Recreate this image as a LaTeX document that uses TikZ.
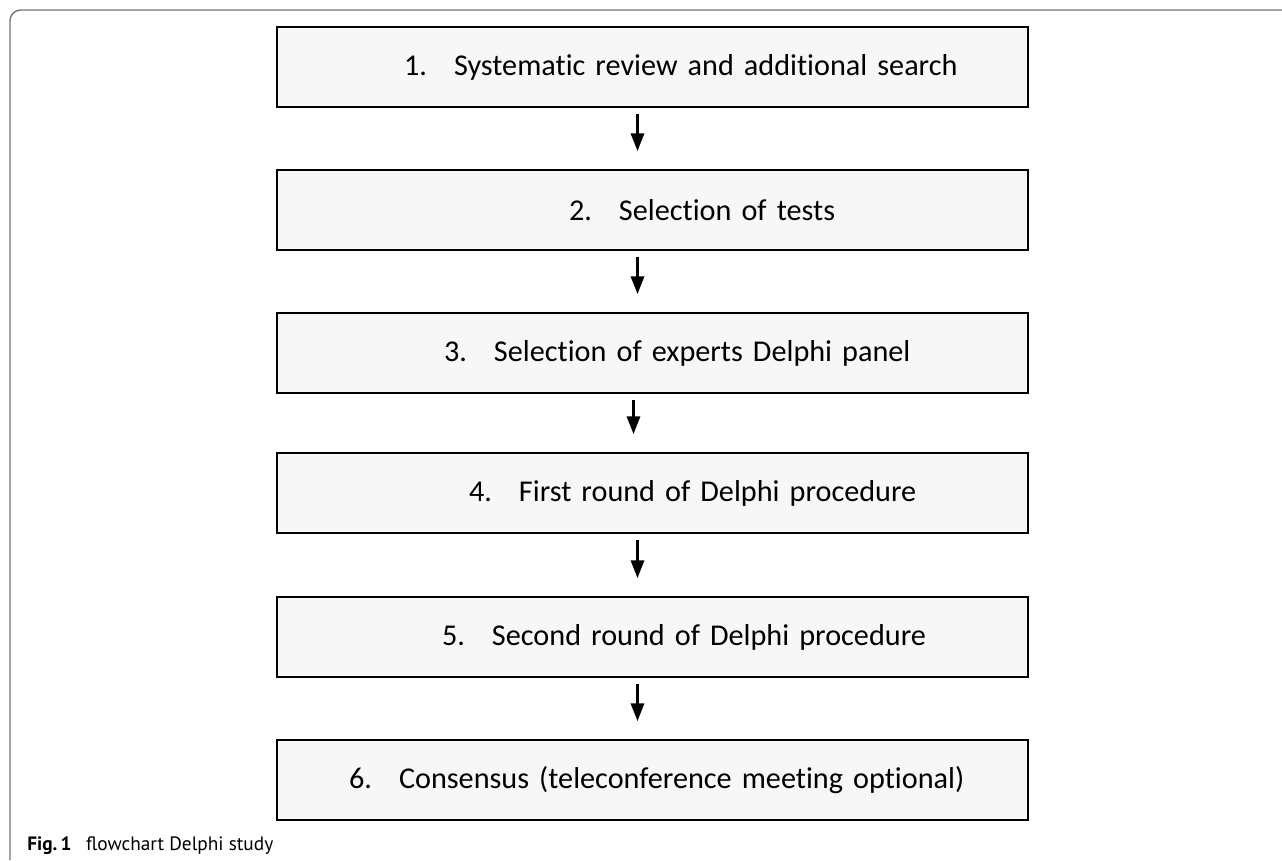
\documentclass[tikz,border=0pt]{standalone}
\usepackage{fontspec}
\setmainfont{Carlito}[Ligatures=CommonOff]
\newfontfamily\capfont{PT Sans}
\usetikzlibrary{calc,arrows.meta}
\tikzset{
  stepbox/.style={draw=black, line width=1.1pt, fill=black!3, minimum width=15.02cm, minimum height=1.6cm, text width=15.02cm, inner xsep=0pt, align=left, font=\fontsize{17.2}{20}\selectfont},
  arr/.style={line width=1.3pt, -{Triangle[length=10pt,width=7.5pt]}},
  frame/.style={draw=black!55, line width=0.8pt, rounded corners=6pt}
}
\newcommand{\stepline}[3]{\hspace*{#1}\makebox[1cm][l]{#2}#3}

\begin{document}
\begin{tikzpicture}[x=0.02cm, y=-0.02cm]
			%%%%% START %%%%%
			\useasboundingbox (0, 0) rectangle (1282, 860);
			
			\draw[frame] (10, 860) -- (10, 10) -- (1282, 10);
			
			\node[stepbox] (b1) at (652.5, 67) {\stepline{2.54cm}{1.}{Systematic review and additional search}};
			\node[stepbox] (b2) at (652.5, 210) {\stepline{5.84cm}{2.}{Selection of tests}};
			\node[stepbox] (b3) at (652.5, 353) {\stepline{3.34cm}{3.}{Selection of experts Delphi panel}};
			\node[stepbox] (b4) at (652.5, 493) {\stepline{3.84cm}{4.}{First round of Delphi procedure}};
			\node[stepbox] (b5) at (652.5, 637) {\stepline{3.3cm}{5.}{Second round of Delphi procedure}};
			\node[stepbox] (b6) at (652.5, 780) {\stepline{1.44cm}{6.}{Consensus (teleconference meeting optional)}};
			
			\draw[arr] ($(b1.south)+(-15, 6)$) -- ($(b2.north)+(-15, -18)$);
			\draw[arr] ($(b2.south)+(-15, 6)$) -- ($(b3.north)+(-15, -18)$);
			\draw[arr] ($(b3.south)+(-19, 6)$) -- ($(b4.north)+(-19, -18)$);
			\draw[arr] ($(b4.south)+(-15, 6)$) -- ($(b5.north)+(-15, -18)$);
			\draw[arr] ($(b5.south)+(-15, 6)$) -- ($(b6.north)+(-15, -18)$);
			
			\node[anchor=base west, inner sep=0pt, font=\capfont\fontsize{11}{13}\selectfont] (cap) at (27, 850) {\textbf{Fig.\,1}\hspace{0.75em}flowchart Delphi study};
			
			%%%%% END %%%%%
\end{tikzpicture}
\end{document}
